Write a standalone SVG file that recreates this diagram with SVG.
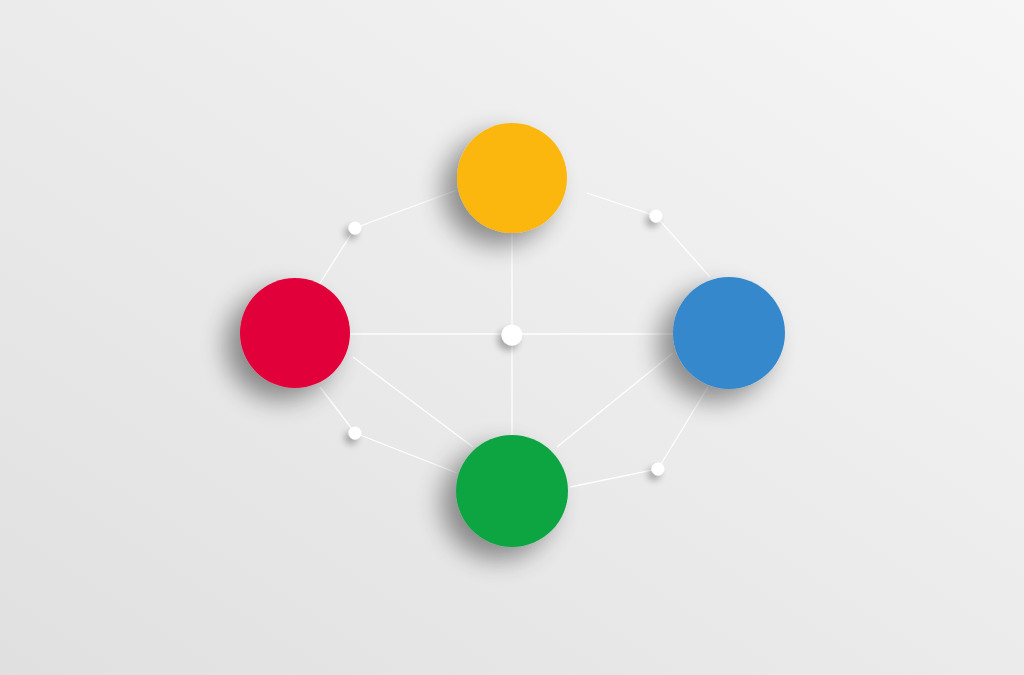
<svg xmlns="http://www.w3.org/2000/svg" width="1024" height="675" viewBox="0 0 1024 675">
<defs>
<linearGradient id="bg" x1="0" y1="1" x2="1" y2="0">
<stop offset="0" stop-color="#e0e0e0"/>
<stop offset="0.5" stop-color="#ebebeb"/>
<stop offset="1" stop-color="#f6f6f6"/>
</linearGradient>
<filter id="sh" x="-80%" y="-80%" width="260%" height="260%">
<feGaussianBlur in="SourceAlpha" stdDeviation="13"/>
<feOffset dx="-14" dy="12"/>
<feComponentTransfer><feFuncA type="linear" slope="0.42"/></feComponentTransfer>
<feMerge><feMergeNode/><feMergeNode in="SourceGraphic"/></feMerge>
</filter>
<filter id="shs" x="-150%" y="-150%" width="400%" height="400%">
<feGaussianBlur in="SourceAlpha" stdDeviation="3.5"/>
<feOffset dx="-4" dy="5"/>
<feComponentTransfer><feFuncA type="linear" slope="0.3"/></feComponentTransfer>
<feMerge><feMergeNode/><feMergeNode in="SourceGraphic"/></feMerge>
</filter>
<style>
.ln{stroke:#ffffff;stroke-width:1.3;fill:none;opacity:0.95}
.dot{fill:#ffffff}
</style>
</defs>
<rect width="1024" height="675" fill="url(#bg)"/>
<g id="connectors">
<line class="ln" x1="512" y1="230" x2="512" y2="440"/>
<line class="ln" x1="348" y1="334" x2="676" y2="334"/>
<line class="ln" x1="353" y1="357" x2="473" y2="447"/>
<line class="ln" x1="557" y1="447" x2="673" y2="353"/>
<polyline class="ln" points="457,190 355,228 320,283"/>
<polyline class="ln" points="587,193 656,216 710,277"/>
<polyline class="ln" points="320,387 355,433 457,473"/>
<polyline class="ln" points="570,487 658,469 708,387"/>
</g>
<g id="dot-center"><circle class="dot" cx="512" cy="335" r="10.5" filter="url(#shs)"/></g>
<g id="dot-tl"><circle class="dot" cx="355" cy="228" r="6.5" filter="url(#shs)"/></g>
<g id="dot-tr"><circle class="dot" cx="656" cy="216" r="6.5" filter="url(#shs)"/></g>
<g id="dot-bl"><circle class="dot" cx="355" cy="433" r="6.5" filter="url(#shs)"/></g>
<g id="dot-br"><circle class="dot" cx="658" cy="469" r="6.5" filter="url(#shs)"/></g>
<g id="node-yellow"><circle cx="512" cy="178" r="55" fill="#fbb70e" filter="url(#sh)"/></g>
<g id="node-red"><circle cx="295" cy="333" r="55" fill="#e2023a" filter="url(#sh)"/></g>
<g id="node-blue"><circle cx="729" cy="333" r="56" fill="#3588cc" filter="url(#sh)"/></g>
<g id="node-green"><circle cx="512" cy="491" r="56" fill="#0ea443" filter="url(#sh)"/></g>
</svg>
